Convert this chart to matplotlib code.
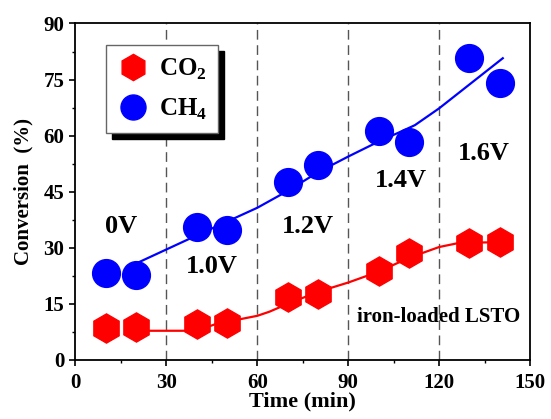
import matplotlib
matplotlib.use("Agg")
import matplotlib.pyplot as plt
from matplotlib.ticker import MultipleLocator

plt.rcParams['font.family'] = ['Liberation Serif', 'DejaVu Serif']
plt.rcParams['font.weight'] = 'bold'
plt.rcParams['mathtext.fontset'] = 'custom'
plt.rcParams['mathtext.rm'] = 'Liberation Serif:bold'
plt.rcParams['mathtext.bf'] = 'Liberation Serif:bold'

time = [10, 20, 40, 50, 70, 80, 100, 110, 130, 140]
co2 = [8.5, 8.9, 9.5, 10.0, 16.8, 17.6, 23.9, 28.5, 31.2, 31.5]
ch4 = [23.3, 22.7, 35.5, 34.8, 47.6, 52.1, 61.3, 58.4, 80.7, 74.1]

co2_fit_x = [20, 40, 47, 55, 60, 64, 70, 80, 90, 100, 110, 120, 126, 133, 140]
co2_fit_y = [7.8, 7.8, 9.8, 11.0, 11.8, 12.9, 15.0, 18.2, 20.7, 23.6, 27.3, 30.2, 31.2, 31.4, 31.5]
ch4_fit_x = [20, 40, 50, 60, 70, 80, 90, 100, 108, 112, 120, 141]
ch4_fit_y = [25.8, 33.3, 37.0, 40.7, 45.2, 50.2, 54.4, 58.4, 61.3, 62.8, 67.3, 80.7]

dividers = [30, 60, 90, 120]
volt_labels = ['0V', '1.0V', '1.2V', '1.4V', '1.6V']
volt_x = [15, 45, 76.6, 107.4, 134.6]
volt_y = [35.6, 24.9, 35.6, 48.1, 55.3]

fig = plt.figure(figsize=(5.51, 4.19), dpi=100)
ax = fig.add_axes([0.137, 0.141, 0.825, 0.803])

for d in dividers:
    ax.axvline(d, color='#555555', lw=1.0, ls=(0, (7, 4)), zorder=1)

ax.plot(co2_fit_x, co2_fit_y, color='#ff0000', lw=1.6, zorder=2)
ax.plot(ch4_fit_x, ch4_fit_y, color='#0000ff', lw=1.6, zorder=2)
ax.plot(time, co2, ls='none', marker='h', ms=21, color='#ff0000', mec='#ff0000',
        label='CO$_2$', zorder=3)
ax.plot(time, ch4, ls='none', marker='o', ms=20, color='#0000ff', mec='#0000ff',
        label='CH$_4$', zorder=3)

for t, x, y in zip(volt_labels, volt_x, volt_y):
    ax.text(x, y, t, ha='center', va='center', fontsize=19, fontweight='bold')
ax.text(119.9, 11.6, 'iron-loaded LSTO', ha='center', va='center', fontsize=15,
        fontweight='bold')

ax.set_xlim(0, 150)
ax.set_ylim(0, 90)
ax.xaxis.set_major_locator(MultipleLocator(30))
ax.xaxis.set_minor_locator(MultipleLocator(15))
ax.yaxis.set_major_locator(MultipleLocator(15))
ax.yaxis.set_minor_locator(MultipleLocator(7.5))
ax.tick_params(which='major', direction='out', length=4.5, width=1.2, labelsize=15)
ax.tick_params(axis='x', which='major', pad=5)
ax.tick_params(which='minor', direction='out', length=2.5, width=1.0)
for lab in ax.get_xticklabels() + ax.get_yticklabels():
    lab.set_fontweight('bold')
for s in ax.spines.values():
    s.set_linewidth(1.3)

ax.set_xlabel('Time (min)', fontsize=16, fontweight='bold', labelpad=-1)
ax.set_ylabel('Conversion  (%)', fontsize=15, fontweight='bold', labelpad=7)

leg = ax.legend(loc='upper left', bbox_to_anchor=(0.068, 0.935), fontsize=18,
                frameon=True, fancybox=False, edgecolor='#666666', framealpha=1,
                shadow={'color': 'black', 'alpha': 1, 'ox': 4, 'oy': -4},
                handletextpad=0.45, borderpad=0.45, borderaxespad=0,
                labelspacing=0.6, handlelength=1.2, markerscale=0.9)
leg.get_frame().set_linewidth(1.0)

fig.savefig('out.png', dpi=100)
